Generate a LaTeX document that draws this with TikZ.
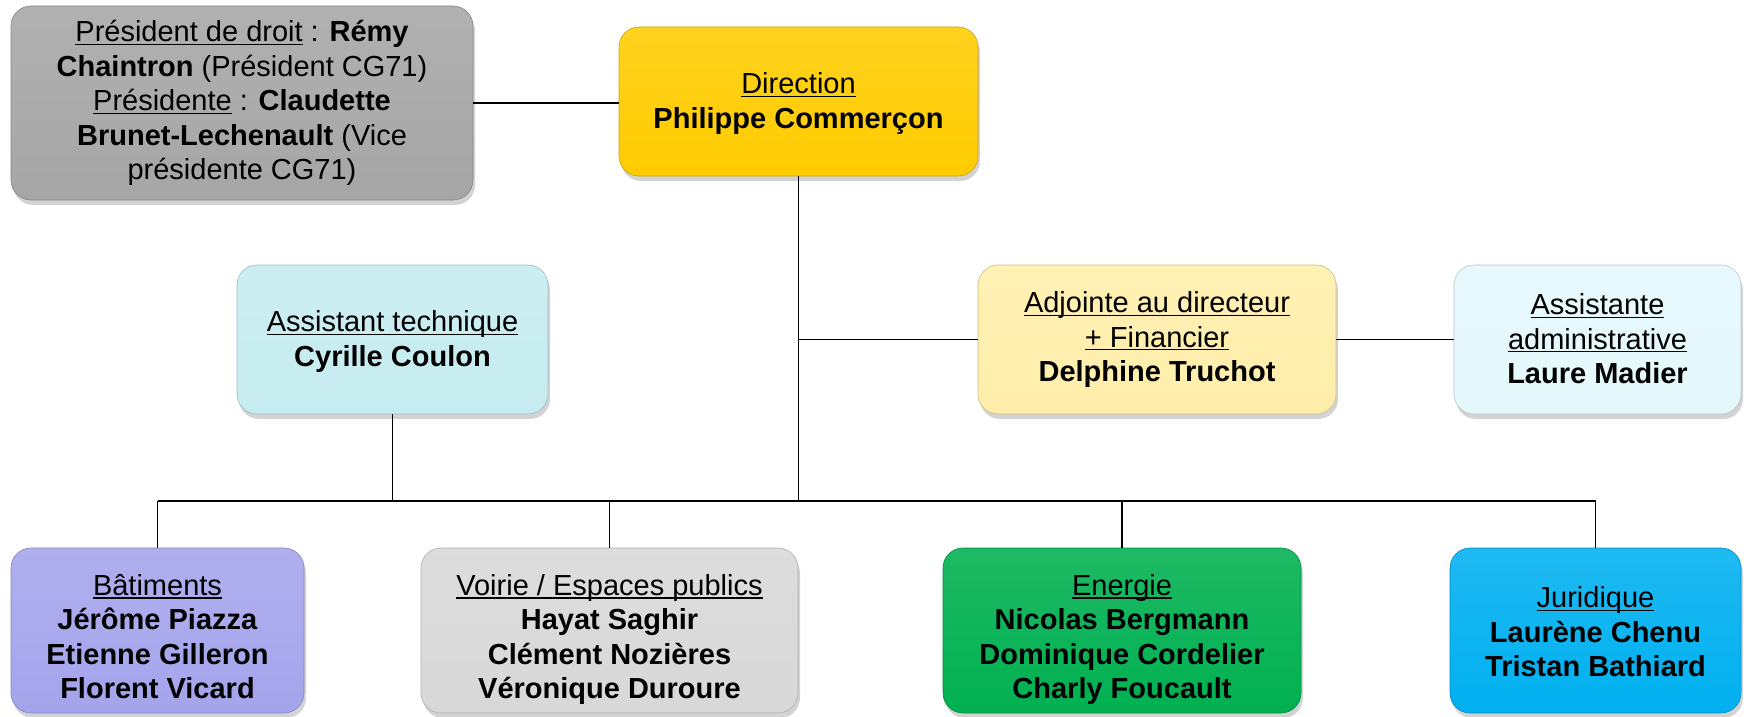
\documentclass[tikz,border=0pt]{standalone}
\usepackage{fontspec}
\setmainfont{Liberation Sans}
\usetikzlibrary{shadows}
\definecolor{cpres}{RGB}{166,166,166}
\definecolor{cdir}{RGB}{255,204,0}
\definecolor{cat}{RGB}{197,236,240}
\definecolor{cadj}{RGB}{255,238,170}
\definecolor{casa}{RGB}{228,248,252}
\definecolor{cbat}{RGB}{164,164,236}
\definecolor{cvoi}{RGB}{216,216,216}
\definecolor{cene}{RGB}{0,176,80}
\definecolor{cjur}{RGB}{0,176,240}
\tikzset{
  orgbox/.style={rounded corners=20pt, inner sep=0pt,
    font=\fontsize{29}{34.5}\selectfont, draw=#1!80!black, line width=0.6pt,
    top color=#1!88!white, bottom color=#1,
    drop shadow={opacity=0.35, shadow xshift=2pt, shadow yshift=-5pt}},
  link/.style={line width=1.8pt, black}
}
\newcommand{\ulx}[1]{\setbox0\hbox{#1}\rlap{\rule[-3.2pt]{\wd0}{1.3pt}}\box0\relax}
\newcommand{\bx}[2]{\raisebox{#1}[0pt][0pt]{\renewcommand{\arraystretch}{1}\begin{tabular}{@{}c@{}}#2\end{tabular}}}
\begin{document}
\begin{tikzpicture}[x=1pt,y=-1pt]
\useasboundingbox (0,0) rectangle (1746,717);
\node[orgbox=cpres, minimum width=462pt, minimum height=194pt] (pres) at (242,103)
  {\bx{-7pt}{\ulx{Président de droit} : \textbf{Rémy}\\ \textbf{Chaintron} (Président CG71)\\ \ulx{Présidente} : \textbf{Claudette}\\ \textbf{Brunet-Lechenault} (Vice\\ présidente CG71)}};
\node[orgbox=cdir, minimum width=359pt, minimum height=149pt] (dir) at (798.5,101.5)
  {\bx{-9pt}{\ulx{Direction}\\ \textbf{Philippe Commerçon}}};
\node[orgbox=cat, minimum width=311pt, minimum height=149pt] (at) at (392.5,339.5)
  {\bx{-9pt}{\ulx{Assistant technique}\\ \textbf{Cyrille Coulon}}};
\node[orgbox=cadj, minimum width=358pt, minimum height=149pt] (adj) at (1157,339.5)
  {\bx{-7pt}{\ulx{Adjointe au directeur}\\ \ulx{+ Financier}\\ \textbf{Delphine Truchot}}};
\node[orgbox=casa, minimum width=287pt, minimum height=149pt] (asa) at (1597.5,339.5)
  {\bx{-9pt}{\ulx{Assistante}\\ \ulx{administrative}\\ \textbf{Laure Madier}}};
\node[orgbox=cbat, minimum width=293pt, minimum height=165pt] (bat) at (157.5,630.5)
  {\bx{-16pt}{\ulx{Bâtiments}\\ \textbf{Jérôme Piazza}\\ \textbf{Etienne Gilleron}\\ \textbf{Florent Vicard}}};
\node[orgbox=cvoi, minimum width=377pt, minimum height=165pt] (voi) at (609.5,630.5)
  {\bx{-16pt}{\ulx{Voirie / Espaces publics}\\ \textbf{Hayat Saghir}\\ \textbf{Clément Nozières}\\ \textbf{Véronique Duroure}}};
\node[orgbox=cene, minimum width=358pt, minimum height=165pt] (ene) at (1122,630.5)
  {\bx{-16pt}{\ulx{Energie}\\ \textbf{Nicolas Bergmann}\\ \textbf{Dominique Cordelier}\\ \textbf{Charly Foucault}}};
\node[orgbox=cjur, minimum width=291pt, minimum height=165pt] (jur) at (1595.5,630.5)
  {\bx{-11pt}{\ulx{Juridique}\\ \textbf{Laurène Chenu}\\ \textbf{Tristan Bathiard}}};
\coordinate (bus) at (0,501);
\draw[link] (pres.east) -- (pres.east -| dir.west);
\draw[link] (dir.south) -- (dir.south |- bus);
\draw[link] (dir.south |- adj.west) -- (adj.west);
\draw[link] (adj.east) -- (asa.west);
\draw[link] (at.south) -- (at.south |- bus);
\draw[link] (bat.north |- bus) -- (jur.north |- bus);
\draw[link] (bat.north) -- (bat.north |- bus);
\draw[link] (voi.north) -- (voi.north |- bus);
\draw[link] (ene.north) -- (ene.north |- bus);
\draw[link] (jur.north) -- (jur.north |- bus);
\end{tikzpicture}
\end{document}
